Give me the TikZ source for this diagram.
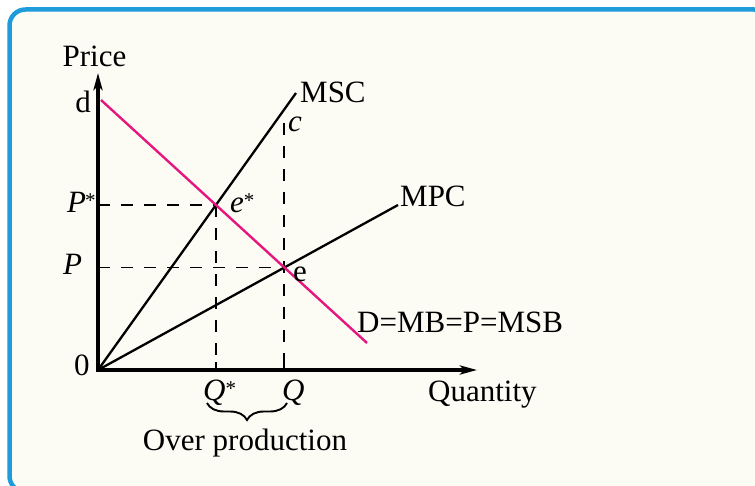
\documentclass[tikz,border=0pt]{standalone}
\usepackage{fontspec}
\setmainfont{Liberation Serif}
\usetikzlibrary{arrows.meta,decorations.pathreplacing,calc}
\definecolor{framebl}{HTML}{1E9BDB}
\definecolor{creambg}{HTML}{FCFCF5}
\definecolor{demandc}{HTML}{E5177E}
\newcommand{\supstar}{{\fontsize{21}{21}\selectfont\raisebox{5pt}{*}}}
\begin{document}
\begin{tikzpicture}[x=1pt,y=-1pt,
  lbl/.style={inner sep=0pt, font=\fontsize{31}{36}\selectfont},
  axisline/.style={line width=3.2pt, line join=miter, {Stealth[length=17pt,width=9pt,inset=4pt]}-{Stealth[length=17pt,width=9pt,inset=4pt]}},
  cost/.style={line width=2.3pt},
  guide/.style={line width=1.9pt, dash pattern=on 12pt off 11pt},
  tick/.style={line width=1.9pt},
  dcurve/.style={line width=2.4pt, demandc}]
\useasboundingbox (0,0) rectangle (755,486);
\fill[white] (0,0) rectangle (755,486);
\draw[framebl, line width=4.5pt, fill=creambg, rounded corners=16pt] (9.5,9.5) rectangle (770,492);
% key points
\coordinate (O) at (98,370);
\coordinate (Ytop) at (98,73);
\coordinate (Xend) at (477,370);
\coordinate (MSCend) at (296,93);
\coordinate (MPCend) at (398,205);
\coordinate (Dstart) at (101,100);
\coordinate (Dend) at (367,343);
\coordinate (estar) at (intersection of O--MSCend and Dstart--Dend);
\coordinate (e) at (intersection of O--MPCend and Dstart--Dend);
\coordinate (c) at ($(e)+(0,-144)$);
% guides
\draw[guide] (O |- estar) -- (estar);
\draw[guide] (estar) -- (estar |- O);
\draw[guide] (O |- e) -- (e);
\draw[guide] (c) -- (e |- O);
\draw[tick] (O |- estar) -- ++(6,0);
\draw[tick] (O |- e) -- ++(6,0);
\draw[tick] (e |- O) -- ++(0,-8);
\draw[tick] (estar |- O) -- ++(0,-8);
% curves
\draw[cost] (O) -- (MSCend);
\draw[cost] (O) -- (MPCend);
\draw[dcurve] (Dstart) -- (Dend);
% axes
\draw[axisline] (Ytop) -- (O) -- (Xend);
% labels
\node[lbl, anchor=base] (price) at (94.5,67) {Price};
\node[lbl, anchor=base east] (dlab) at (91,113) {d};
\node[lbl, anchor=base west] (msc) at (300,103) {MSC};
\node[lbl, anchor=base west] (clab) at (288,132) {\textit{c}};
\node[lbl, anchor=base west] (pstar) at (67,213) {\textit{P}\kern-1pt\supstar};
\node[lbl, anchor=base west] (estarlab) at (230,213) {\textit{e}\supstar};
\node[lbl, anchor=base west] (plab) at (63,275) {\textit{P}};
\node[lbl, anchor=base west] (elab) at (293,282) {e};
\node[lbl, anchor=base west] (zero) at (74,375) {0};
\node[lbl, anchor=base west] (qstar) at (203,400) {\textit{Q}\supstar};
\node[lbl, anchor=base west] (qlab) at (282,400) {\textit{Q}};
\node[lbl, anchor=base] (over) at (245,450) {Over production};
\node[lbl, anchor=base west] (qty) at (428,401) {Quantity};
\node[lbl, anchor=base west] (mpc) at (400,207) {MPC};
\node[lbl, anchor=base west] (dlabel) at (357,332) {D=MB=P=MSB};
% brace
\coordinate (bl) at (207,403);
\coordinate (br) at (287,403);
\draw[tick, decorate, decoration={brace, mirror, amplitude=17pt}] (bl) -- (br);
\end{tikzpicture}
\end{document}
